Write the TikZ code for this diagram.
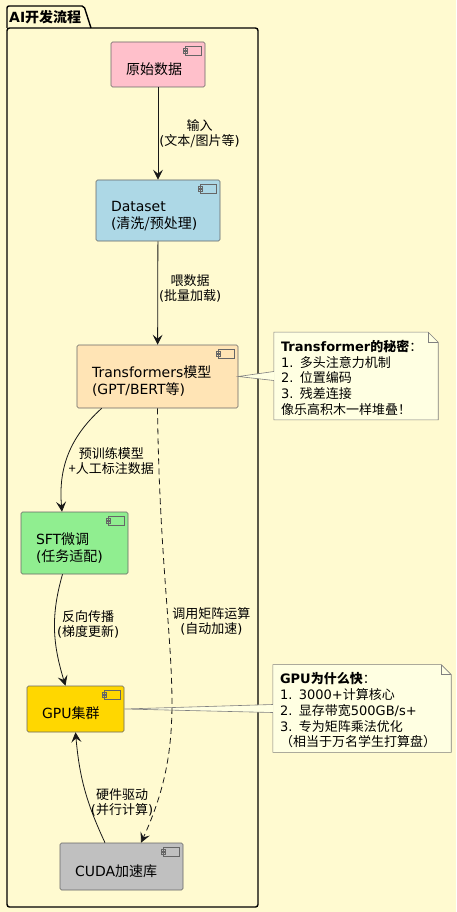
\documentclass[tikz,border=0pt]{standalone}
\usepackage{fontspec}
\setmainfont{DejaVu Sans}
\newfontfamily\zh{Noto Sans CJK SC}
\usepackage{tikz}
\usetikzlibrary{arrows.meta}

\definecolor{bgyellow}{RGB}{255,250,208}
\definecolor{notefill}{RGB}{255,255,226}
\definecolor{edgegray}{RGB}{24,24,24}
\definecolor{rawpink}{RGB}{255,192,203}
\definecolor{dsblue}{RGB}{173,216,230}
\definecolor{transtan}{RGB}{255,228,181}
\definecolor{sftgreen}{RGB}{144,238,144}
\definecolor{gpugold}{RGB}{255,215,0}
\definecolor{cudagray}{RGB}{192,192,192}

\begin{document}
\begin{tikzpicture}[x=1pt,y=-1pt]
\tikzstyle{comp}=[draw=black!60, line width=0.6pt, rounded corners=1.5pt, align=left, inner xsep=15pt, inner ysep=0pt, font=\fontsize{14}{17}\selectfont, text height=21pt]
\tikzstyle{lbl}=[align=center, inner sep=1pt, font=\fontsize{13}{15}\selectfont, text=black]
\tikzstyle{flow}=[-{Stealth[length=10pt,width=10pt,inset=4pt]}, line width=0.8pt, draw=edgegray]
\tikzstyle{note}=[fill=notefill, align=left, inner xsep=7pt, inner ysep=4pt, font=\fontsize{13}{15.8}\selectfont, text height=15pt]
\tikzstyle{notebd}=[draw=black!50, line width=0.6pt]
\tikzstyle{icon}=[draw=black!60, line width=0.5pt]

\fill[bgyellow] (0,0) rectangle (456,912);
\useasboundingbox (0,0) rectangle (456,912);

% package frame
\draw[line width=1.4pt, rounded corners=2.5pt] (7,28) rectangle (258,907);
\draw[line width=1.4pt, rounded corners=2pt] (7,28) -- (7,6) -- (84,6) -- (91,28);
\node[anchor=west, inner sep=0pt, font=\fontsize{14}{17}\selectfont\bfseries] (title) at (9,17) {AI{\zh 开发流程}};

% components
\node[comp, fill=rawpink, text width=64pt, minimum height=45pt] (raw) at (158,64.5) {{\zh 原始数据}};
\node[comp, fill=dsblue, text width=94pt, minimum height=61pt] (ds) at (158,210.5) {Dataset\\({\zh 清洗/预处理})};
\node[comp, fill=transtan, text width=131pt, minimum height=63pt] (trans) at (157.5,376.5) {Transformers{\zh 模型}\\(GPT/BERT{\zh 等})};
\node[comp, fill=sftgreen, text width=77pt, minimum height=62pt] (sft) at (74.5,543) {SFT{\zh 微调}\\({\zh 任务适配})};
\node[comp, fill=gpugold, text width=67pt, minimum height=46pt] (gpu) at (75.5,709) {GPU{\zh 集群}};
\node[comp, fill=cudagray, text width=93pt, minimum height=47pt] (cuda) at (121.5,866.5) {CUDA{\zh 加速库}};

\foreach \n in {raw,ds,trans,sft,gpu,cuda} {
  \draw[icon] ([xshift=-20pt,yshift=-5pt]\n.north east) rectangle ([xshift=-4pt,yshift=-14pt]\n.north east);
  \draw[icon] ([xshift=-22pt,yshift=-7pt]\n.north east) rectangle ([xshift=-18pt,yshift=-9pt]\n.north east);
  \draw[icon] ([xshift=-22pt,yshift=-10pt]\n.north east) rectangle ([xshift=-18pt,yshift=-12pt]\n.north east);
}

% notes
\node[note, text width=150pt, minimum height=86pt] (ntr) at (356,376) {\textbf{Transformer{\zh 的秘密}}{\zh ：}\\1. {\zh 多头注意力机制}\\2. {\zh 位置编码}\\3. {\zh 残差连接}\\{\zh 像乐高积木一样堆叠！}};
\node[note, text width=164pt, minimum height=85pt] (ngpu) at (362,708.5) {\textbf{GPU{\zh 为什么快}}{\zh ：}\\1. 3000+{\zh 计算核心}\\2. {\zh 显存带宽}500GB/s+\\3. {\zh 专为矩阵乘法优化}\\{\zh （相当于万名学生打算盘）}};

\foreach \n in {ntr,ngpu} {
  \fill[bgyellow] ([xshift=-10pt]\n.north east) -- ([xshift=1pt,yshift=1pt]\n.north east) -- ([yshift=-10pt]\n.north east) -- cycle;
  \draw[notebd] (\n.north west) -- ([xshift=-10pt]\n.north east) -- ([yshift=-10pt]\n.north east) -- (\n.south east) -- (\n.south west) -- cycle;
  \draw[notebd] ([xshift=-10pt]\n.north east) -- ([xshift=-10pt,yshift=-10pt]\n.north east) -- ([yshift=-10pt]\n.north east);
}

\fill[notefill] (trans.east) -- ([xshift=0.8pt,yshift=4.5pt]ntr.west) -- ([xshift=0.8pt,yshift=-4.5pt]ntr.west) -- cycle;
\draw[notebd] ([yshift=4.5pt]ntr.west) -- (trans.east) -- ([yshift=-4.5pt]ntr.west);
\fill[notefill] (gpu.east) -- ([xshift=0.8pt,yshift=4pt]ngpu.west) -- ([xshift=0.8pt,yshift=-4pt]ngpu.west) -- cycle;
\draw[notebd] ([yshift=4pt]ngpu.west) -- (gpu.east) -- ([yshift=-4pt]ngpu.west);

% flows
\draw[flow] (raw) -- (ds) node[lbl, midway, right] (l1) {{\zh 输入}\\({\zh 文本/图片等})};
\draw[flow] (ds) -- (trans) node[lbl, pos=0.46, right] (l2) {{\zh 喂数据}\\({\zh 批量加载})};
\draw[flow] ([xshift=25pt]trans.south west) to[out=222, in=95] node[lbl, pos=0.56, right=1pt] (l3) {{\zh 预训练模型}\\{\zh +人工标注数据}} ([xshift=-12.5pt]sft.north);
\draw[flow, dash pattern=on 6pt off 4pt] (trans.south) .. controls +(3,250) and +(55,-120) .. ([xshift=19.5pt]cuda.north) node[lbl, pos=0.37, right=3pt] (l4) {{\zh 调用矩阵运算}\\({\zh 自动加速})};
\draw[flow] ([xshift=-12pt]sft.south) to[out=254, in=107] node[lbl, pos=0.45, right=1pt] (l5) {{\zh 反向传播}\\({\zh 梯度更新})} ([xshift=-10pt]gpu.north);
\draw[flow] ([xshift=-16.5pt]cuda.north) to[out=115, in=-85] node[lbl, pos=0.37, right=1pt] (l6) {{\zh 硬件驱动}\\({\zh 并行计算})} (gpu.south);
\end{tikzpicture}
\end{document}
